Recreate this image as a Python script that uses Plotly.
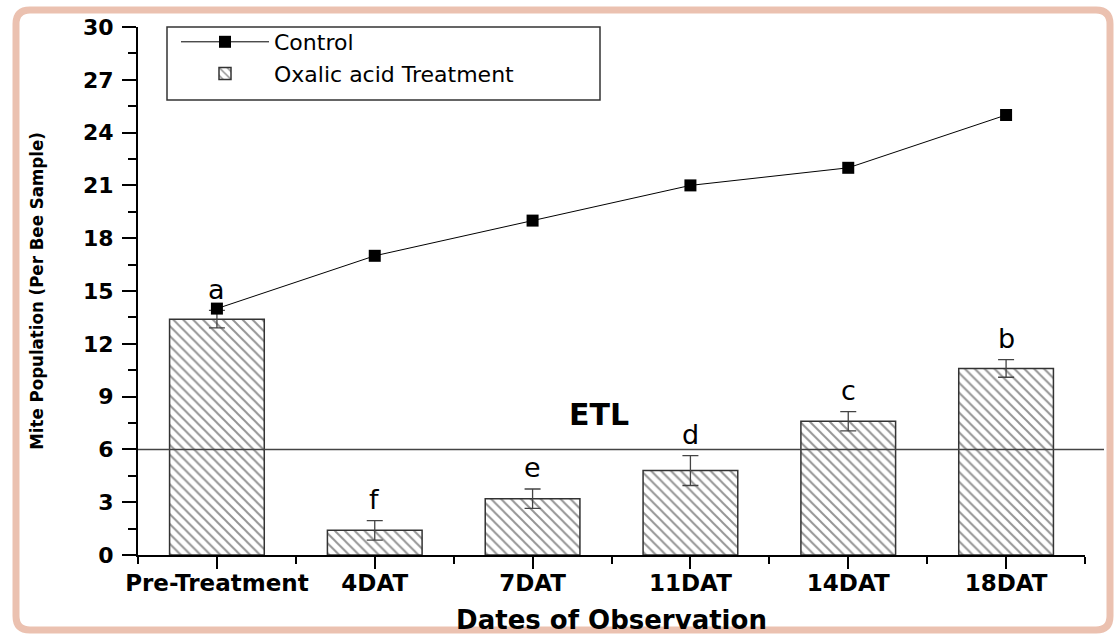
import plotly.graph_objects as go

categories = ["Pre-Treatment", "4DAT", "7DAT", "11DAT", "14DAT", "18DAT"]
treatment = [13.4, 1.4, 3.2, 4.8, 7.6, 10.6]
treatment_err = [0.5, 0.55, 0.55, 0.85, 0.55, 0.5]
control = [14, 17, 19, 21, 22, 25]
letters = ["a", "f", "e", "d", "c", "b"]
etl_value = 6
y_ticks = [0, 3, 6, 9, 12, 15, 18, 21, 24, 27, 30]

xpos = list(range(len(categories)))

# pixel layout helpers
W, H = 1119, 635
L, R, T, B = 138, 34, 27, 80
PW, PH = W - L - R, H - T - B


def px_x(p):
    return (p - L) / PW


def px_y(p):
    return (H - B - p) / PH


fig = go.Figure()

fig.add_trace(go.Bar(
    x=xpos, y=treatment, name="Oxalic acid Treatment", width=0.6,
    marker=dict(color="white", line=dict(color="#333333", width=1.5),
                pattern=dict(shape="\\", fgcolor="#2a2a2a", bgcolor="white",
                             size=7, solidity=0.28)),
    error_y=dict(type="data", array=treatment_err, visible=True,
                 color="#444444", thickness=1.3, width=8),
))

fig.add_trace(go.Scatter(
    x=xpos, y=control, name="Control", mode="lines+markers",
    line=dict(color="black", width=1),
    marker=dict(symbol="square", size=12, color="black"),
))

# letters above bars
for xi, v, e, lt in zip(xpos, treatment, treatment_err, letters):
    fig.add_annotation(x=xi, y=v + e + 1.2, text=lt, showarrow=False,
                       yanchor="middle",
                       font=dict(family="DejaVu Sans", size=27, color="black"))

# ETL line and label
fig.add_shape(type="line", xref="paper", yref="y", x0=0, x1=px_x(1104),
              y0=etl_value, y1=etl_value, line=dict(color="#444444", width=1.5))
fig.add_annotation(x=2.42, y=etl_value + 2.0, text="<b>ETL</b>", showarrow=False,
                   font=dict(family="DejaVu Sans", size=30, color="black"))

# legend box
fig.add_shape(type="rect", xref="paper", yref="paper",
              x0=px_x(167), x1=px_x(600), y0=px_y(100), y1=px_y(27),
              line=dict(color="#333333", width=1.5), fillcolor="rgba(0,0,0,0)")

# outer peach frame (rounded)
fx0, fx1, fy0, fy1 = px_x(16), px_x(1110), px_y(630), px_y(10)
rx, ry = 14 / PW, 14 / PH
path = (f"M{fx0+rx},{fy1} L{fx1-rx},{fy1} Q{fx1},{fy1} {fx1},{fy1-ry} "
        f"L{fx1},{fy0+ry} Q{fx1},{fy0} {fx1-rx},{fy0} "
        f"L{fx0+rx},{fy0} Q{fx0},{fy0} {fx0},{fy0+ry} "
        f"L{fx0},{fy1-ry} Q{fx0},{fy1} {fx0+rx},{fy1} Z")
fig.add_shape(type="path", xref="paper", yref="paper", path=path,
              line=dict(color="#ebc1b0", width=7), fillcolor="rgba(0,0,0,0)",
              layer="below")

fig.update_layout(
    width=W, height=H,
    margin=dict(l=L, r=R, t=T, b=B, autoexpand=False),
    paper_bgcolor="white", plot_bgcolor="white",
    showlegend=True,
    legend=dict(x=px_x(176), y=px_y(21), xanchor="left", yanchor="top",
                traceorder="reversed", itemwidth=88,
                bgcolor="rgba(0,0,0,0)", borderwidth=0,
                font=dict(family="DejaVu Sans", size=22, color="black")),
    font=dict(family="DejaVu Sans", color="black"),
)

fig.update_xaxes(
    range=[-0.5, 5.5], tickvals=xpos, ticktext=categories,
    automargin=False,
    showline=True, linecolor="black", linewidth=2,
    ticks="outside", ticklen=12, tickwidth=2, tickcolor="black",
    minor=dict(tick0=-0.5, dtick=1, ticks="outside", ticklen=7,
               tickwidth=2, tickcolor="black"),
    showgrid=False, zeroline=False, ticklabelstandoff=-6,
    tickfont=dict(family="DejaVu Sans", size=23, color="black", weight="bold"),
    title=dict(text="<b>Dates of Observation</b>", standoff=20,
               font=dict(family="DejaVu Sans", size=26, color="black")),
)

fig.update_yaxes(
    range=[0, 30], tickvals=y_ticks,
    automargin=False,
    showline=True, linecolor="black", linewidth=2,
    ticks="outside", ticklen=14, tickwidth=2, tickcolor="black",
    minor=dict(tick0=0, dtick=1.5, ticks="outside", ticklen=8,
               tickwidth=2, tickcolor="black"),
    showgrid=False, zeroline=False, ticklabelstandoff=4,
    tickfont=dict(family="DejaVu Sans", size=22, color="black", weight="bold"),
    title=dict(text="<b>Mite Population (Per Bee Sample)</b>", standoff=34,
               font=dict(family="Liberation Sans Narrow, DejaVu Sans Condensed, Liberation Sans",
                         size=18.5, color="black")),
)

fig.write_html("out.html")
